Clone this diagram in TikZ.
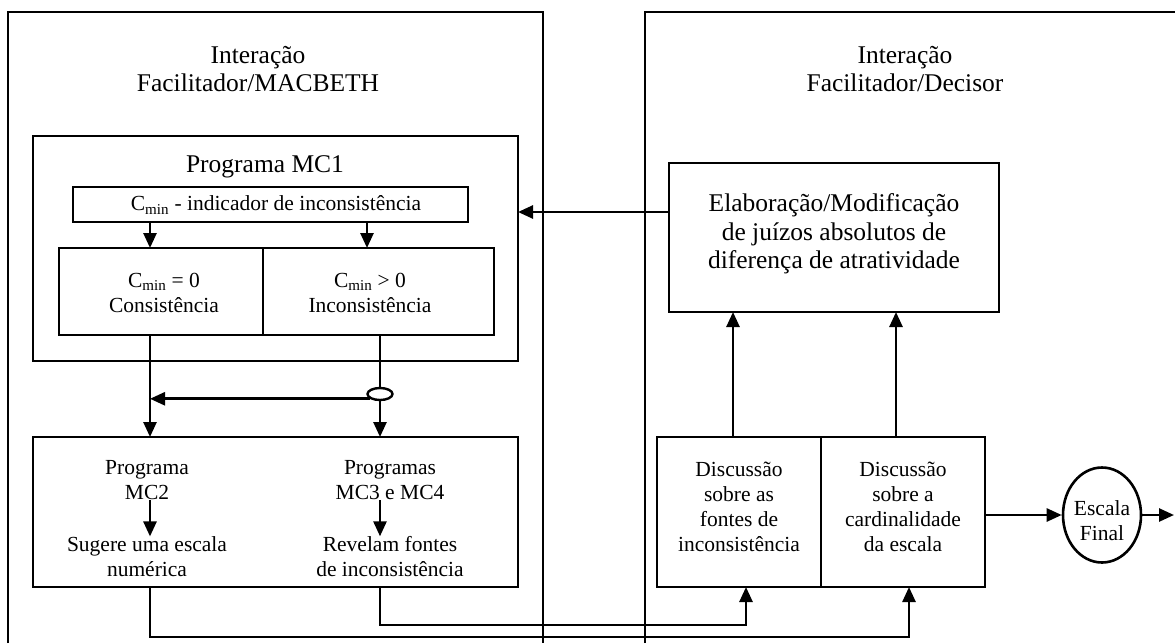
\documentclass[tikz,border=0pt]{standalone}
\usepackage{fontspec}
\setmainfont{Liberation Serif}
\usetikzlibrary{arrows.meta,shapes.geometric,calc}

\begin{document}
\begin{tikzpicture}[x=1pt,y=-1pt,
  frame/.style={line width=2.8pt},
  box/.style={draw,line width=2.8pt,rectangle,inner sep=0pt,outer sep=0pt},
  txt/.style={inner sep=0pt,outer sep=0pt,align=center,font=\fontsize{21.5}{25}\selectfont},
  ttl/.style={inner sep=0pt,outer sep=0pt,align=center,font=\fontsize{25.5}{28.5}\selectfont},
  arr/.style={line width=2.6pt,-{Triangle[length=15pt,width=13pt]}},
  link/.style={line width=2.6pt}
]
\useasboundingbox (0,0) rectangle (1175,643);

% column and row guides
\coordinate (xa) at (150,0);
\coordinate (xb) at (367,0);
\coordinate (xc) at (380,0);
\coordinate (xd) at (733,0);
\coordinate (xe) at (896,0);
\coordinate (xf) at (746,0);
\coordinate (xg) at (909,0);
\coordinate (ya) at (0,212);

% the two interaction frames (open at the page edges)
\draw[frame] (8,643) -- (8,12) -- (543,12) -- (543,643);
\draw[frame] (645,643) -- (645,12) -- (1175,12);
\node[ttl] (tl) at (258,69) {Interação\\Facilitador/MACBETH};
\node[ttl] (tr) at (905,69) {Interação\\Facilitador/Decisor};

% Programa MC1
\node[box,minimum width=485pt,minimum height=225pt] (mc1) at (275.5,248.5) {};
\node[ttl] (mc1t) at (265,167) {Programa MC1};
\node[box,minimum width=395pt,minimum height=35pt] (cmin) at (270.5,204.5) {};
\node[txt] (cmint) at (276,205) {C\textsubscript{min} - indicador de inconsistência};
\node[box,minimum width=204pt,minimum height=87pt] (consL) at (161,291.5) {};
\node[box,minimum width=231pt,minimum height=87pt] (consR) at (378.5,291.5) {};
\node[txt] (consLt) at (164,293) {C\textsubscript{min} = 0\\Consistência};
\node[txt] (consRt) at (370,293) {C\textsubscript{min} > 0\\Inconsistência};

\draw[arr] (cmin.south -| xa) -- (consL.north -| xa);
\draw[arr] (cmin.south -| xb) -- (consR.north -| xb);

% junction between MC1 and the following programs
\node[draw,ellipse,line width=2.4pt,minimum width=25pt,minimum height=12pt,inner sep=0pt] (jn) at (380,394) {};

% Programas MC2, MC3 e MC4
\node[box,minimum width=485pt,minimum height=150pt] (bot) at (275.5,512) {};
\node[txt] (p2) at (147,480.5) {Programa\\MC2};
\node[txt] (sug) at (147,556.5) {Sugere uma escala\\numérica};
\node[txt] (p34) at (390,480.5) {Programas\\MC3 e MC4};
\node[txt] (rev) at (390,556.5) {Revelam fontes\\de inconsistência};
\draw[arr] (p2.south -| xa) -- (sug.north -| xa);
\draw[arr] (p34.south -| xc) -- (rev.north -| xc);

\draw[arr] (consL.south -| xa) -- (bot.north -| xa);
\draw[link] (consR.south -| xc) -- (jn.north);
\draw[arr] (jn.south) -- (bot.north -| xc);
\draw[arr] (jn.205) -- (jn.205 -| xa);

% judgements box
\node[box,minimum width=330pt,minimum height=149pt] (elab) at (834,237.5) {};
\node[ttl] (elabt) at (834,234) {Elaboração/Modificação\\de juízos absolutos de\\diferença de atratividade};
\draw[arr] (elab.west |- ya) -- (mc1.east |- ya);

% discussion boxes
\node[box,minimum width=164pt,minimum height=150pt] (discL) at (739,512) {};
\node[box,minimum width=164pt,minimum height=150pt] (discR) at (903,512) {};
\node[txt] (discLt) at (739,506.5) {Discussão\\sobre as\\fontes de\\inconsistência};
\node[txt] (discRt) at (903,506.5) {Discussão\\sobre a\\cardinalidade\\da escala};
\draw[arr] (discL.north -| xd) -- (elab.south -| xd);
\draw[arr] (discR.north -| xe) -- (elab.south -| xe);

% feedback from the programs to the discussions
\draw[arr] (bot.south -| xc) -- ++(0,38) -| (discL.south -| xf);
\draw[arr] (bot.south -| xa) -- ++(0,50) -| (discR.south -| xg);

% final scale
\node[draw,ellipse,line width=2.6pt,minimum width=78pt,minimum height=95pt,inner sep=0pt] (esc) at (1102,515) {};
\node[txt] (esct) at (1102,521) {Escala\\Final};
\draw[arr] (discR.east |- esc) -- (esc.west);
\coordinate (out) at (1174,515);
\draw[arr] (esc.east) -- (out);
\end{tikzpicture}
\end{document}
